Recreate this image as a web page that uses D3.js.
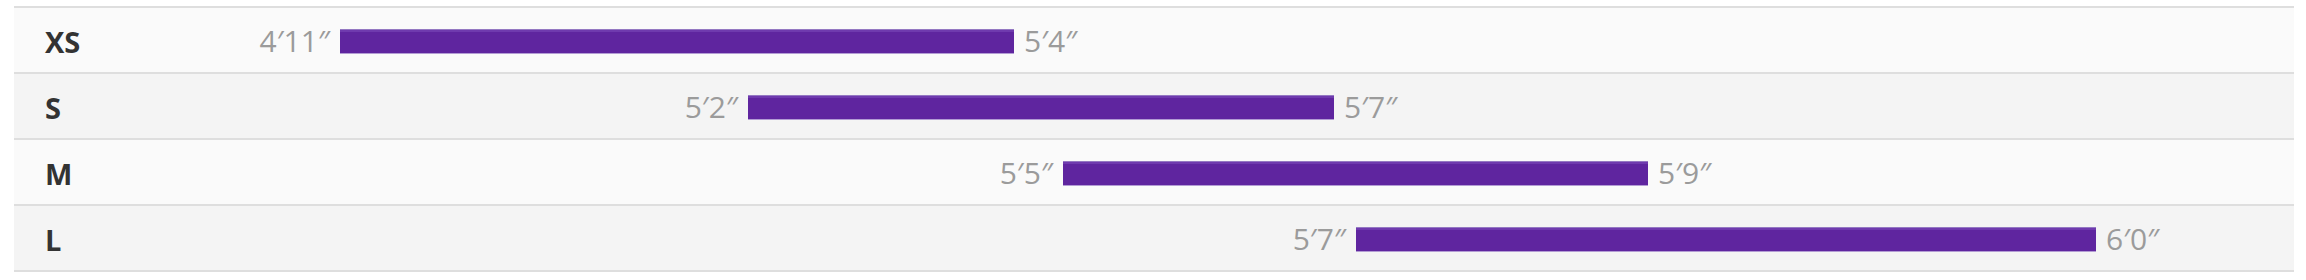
<!DOCTYPE html>
<html>
<head>
<meta charset="utf-8">
<script src="https://cdn.jsdelivr.net/npm/d3@7"></script>
<style>
  body { margin: 0; background: #fff; }
  svg { display: block; }
</style>
</head>
<body>
<svg id="viz"></svg>
<script>
var width = 2306;
var height = 280;

// sizes and height ranges (inches)
var sizes = ["XS", "S", "M", "L"];
var minHeights = [59, 62, 65, 67];
var maxHeights = [64, 67, 69, 72];
var minLabels = ["4\u203211\u2033", "5\u20322\u2033", "5\u20325\u2033", "5\u20327\u2033"];
var maxLabels = ["5\u20324\u2033", "5\u20327\u2033", "5\u20329\u2033", "6\u20320\u2033"];

var rows = sizes.map(function(s, i) {
    return {size: s, lo: minHeights[i], hi: maxHeights[i], loText: minLabels[i], hiText: maxLabels[i]};
});

var svg = d3.select("#viz").attr("width", width).attr("height", height);

var y = d3.scaleBand().domain(sizes).range([6, 270]);

// the widget does not place the bars on one linear axis, so starts and ends get their own scales
var xStart = d3.scaleLinear().domain([59, 62, 65, 67]).range([340, 748, 1063, 1356]);
var xEnd = d3.scaleLinear().domain([64, 67, 69, 72]).range([1014, 1334, 1648, 2096]);

var left = 14, right = 2294;
var barTop = 23, barH = 25;

var row = svg.selectAll("g.row")
    .data(rows)
    .enter()
    .append("g")
    .attr("class", "row")
    .attr("transform", function(d) { return "translate(0," + y(d.size) + ")"; });

row.append("rect")
    .attr("x", left)
    .attr("y", 0)
    .attr("width", right - left)
    .attr("height", y.bandwidth())
    .attr("fill", function(d, i) { return i % 2 ? "#f4f4f4" : "#fafafa"; });

row.append("rect")
    .attr("x", left)
    .attr("y", 0)
    .attr("width", right - left)
    .attr("height", 2)
    .attr("fill", "#dedede");

row.append("text")
    .attr("x", 45)
    .attr("y", 47)
    .style("font-family", "'Open Sans', sans-serif")
    .style("font-weight", "bold")
    .style("font-size", "29px")
    .attr("fill", "#333")
    .text(function(d) { return d.size; });

// bar body
row.append("rect")
    .attr("x", function(d) { return xStart(d.lo); })
    .attr("y", barTop)
    .attr("width", function(d) { return xEnd(d.hi) - xStart(d.lo); })
    .attr("height", barH)
    .attr("fill", "#5f259f");

// top highlight
row.append("rect")
    .attr("x", function(d) { return xStart(d.lo); })
    .attr("y", barTop)
    .attr("width", function(d) { return xEnd(d.hi) - xStart(d.lo); })
    .attr("height", 1)
    .attr("fill", "#9478c2");
row.append("rect")
    .attr("x", function(d) { return xStart(d.lo); })
    .attr("y", barTop + 1)
    .attr("width", function(d) { return xEnd(d.hi) - xStart(d.lo); })
    .attr("height", 2)
    .attr("fill", "#6f3aae");

// bottom edge
row.append("rect")
    .attr("x", function(d) { return xStart(d.lo); })
    .attr("y", barTop + barH - 1)
    .attr("width", function(d) { return xEnd(d.hi) - xStart(d.lo); })
    .attr("height", 1)
    .attr("fill", "#b39cd4");

row.append("text")
    .attr("x", function(d) { return xStart(d.lo) - 10; })
    .attr("y", 46)
    .attr("text-anchor", "end")
    .style("font-family", "'Open Sans', sans-serif")
    .style("font-size", "30px")
    .attr("fill", "#9b9b9b")
    .text(function(d) { return d.loText; });

row.append("text")
    .attr("x", function(d) { return xEnd(d.hi) + 10; })
    .attr("y", 46)
    .style("font-family", "'Open Sans', sans-serif")
    .style("font-size", "30px")
    .attr("fill", "#9b9b9b")
    .text(function(d) { return d.hiText; });

// closing line under the last row
svg.append("rect")
    .attr("x", left)
    .attr("y", y.range()[1])
    .attr("width", right - left)
    .attr("height", 2)
    .attr("fill", "#dedede");
</script>
</body>
</html>
